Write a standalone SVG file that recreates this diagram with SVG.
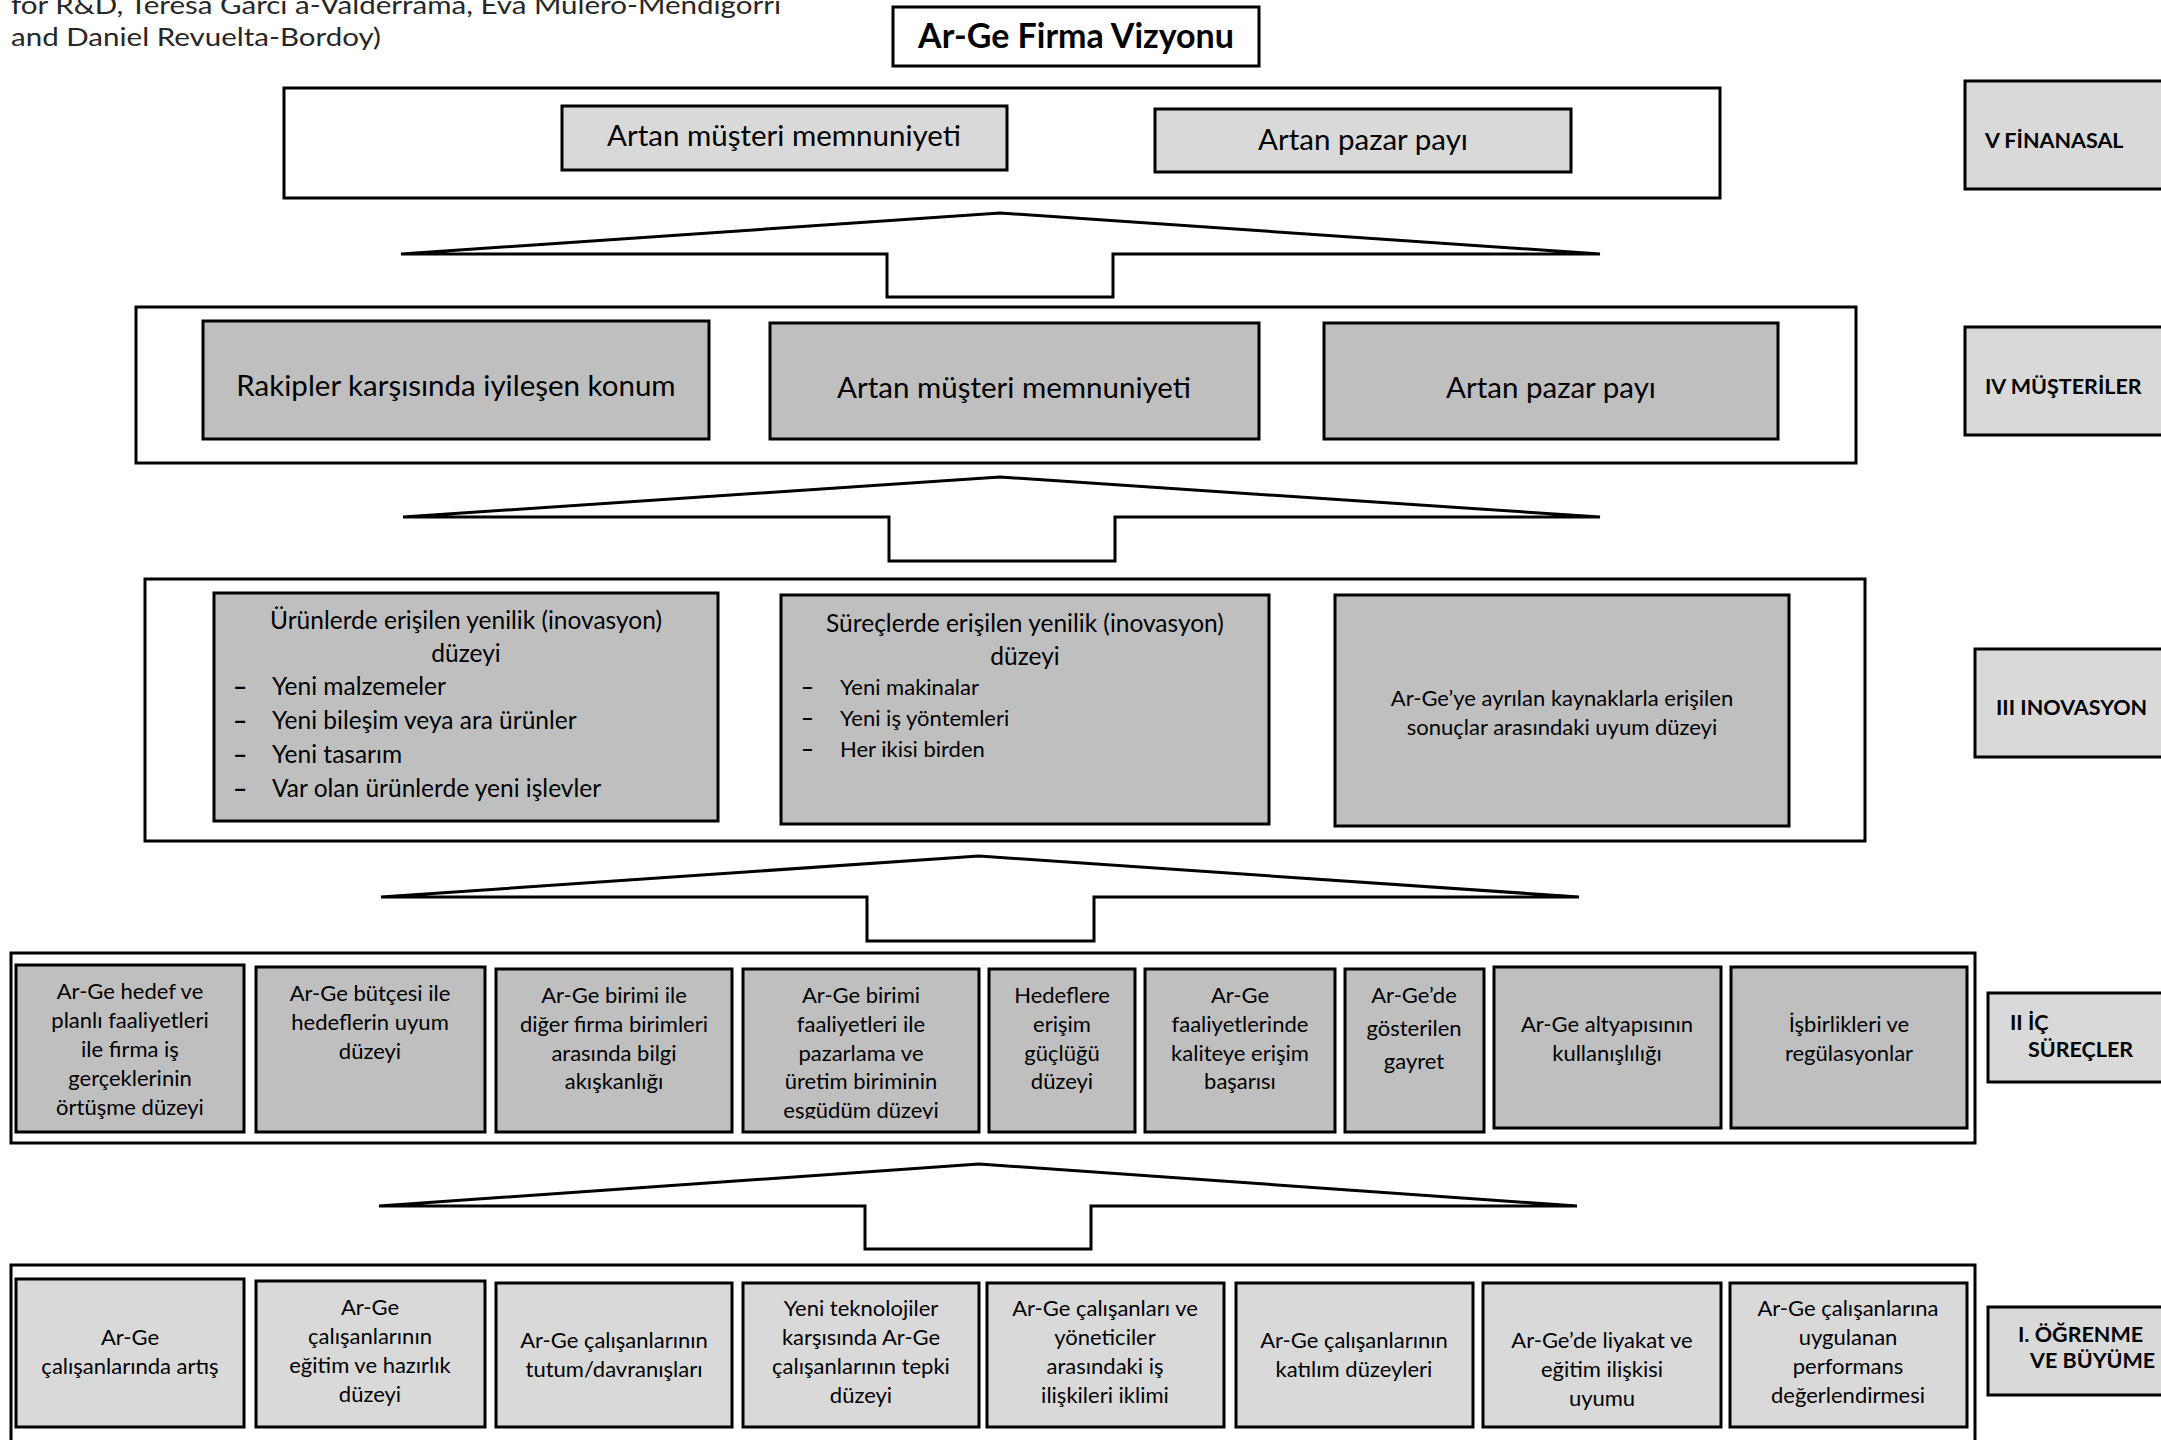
<svg xmlns="http://www.w3.org/2000/svg" width="2161" height="1440" viewBox="0 0 2161 1440">
  <defs>
    <style>
      .ctr{fill:#fff;stroke:#000;stroke-width:3}
      .dk{fill:#bfbfbf;stroke:#000;stroke-width:3}
      .lt{fill:#d9d9d9;stroke:#000;stroke-width:3}
      .arrow{fill:#fff;stroke:#000;stroke-width:3;stroke-linejoin:miter}
      text{font-family:Lato,"Liberation Sans",sans-serif;fill:#000}
      .c{text-anchor:middle}
      .big{font-size:29.5px}
      .mid{font-size:24.5px}
      .sm{font-size:22px}
      .dash{font-weight:bold}
      .lbl{font-size:21.5px;font-weight:bold}
      .ttl{font-size:34px;font-weight:bold}
      .cite{font-size:25px;fill:#262626}
    </style>
    <clipPath id="clipII4"><rect x="743" y="969" width="236" height="150"/></clipPath>
  </defs>
  <rect width="2161" height="1440" fill="#fff"/>

  <!-- source note, top left -->
  <g id="citation">
    <text class="cite" x="11" y="14" textLength="770" lengthAdjust="spacingAndGlyphs">for R&amp;D, Teresa Garcí a-Valderrama, Eva Mulero-Mendigorri</text>
    <text class="cite" x="11" y="46" textLength="370" lengthAdjust="spacingAndGlyphs">and Daniel Revuelta-Bordoy)</text>
  </g>

  <!-- title -->
  <g id="title">
    <rect class="ctr" x="893" y="7" width="366" height="59"/>
    <text class="ttl c" x="1076" y="48">Ar-Ge Firma Vizyonu</text>
  </g>

  <!-- upward block arrows between the levels -->
  <g id="connectors">
    <polygon class="arrow" points="1000,213 1600,254 1113,254 1113,297 887,297 887,254 401,254"/>
    <polygon class="arrow" points="1000,477 1600,517 1115,517 1115,561 889,561 889,517 403,517"/>
    <polygon class="arrow" points="979,856 1579,897 1094,897 1094,941 867,941 867,897 381,897"/>
    <polygon class="arrow" points="979,1164 1577,1206 1091,1206 1091,1249 865,1249 865,1206 379,1206"/>
  </g>

  <!-- V: financial -->
  <g id="level-v">
    <rect class="ctr" x="284" y="88" width="1436" height="110"/>
    <g id="v-1">
      <rect class="lt" x="562" y="106" width="445" height="64"/>
      <text class="big c" x="784" y="146">Artan müşteri memnuniyeti</text>
    </g>
    <g id="v-2">
      <rect class="lt" x="1155" y="109" width="416" height="63"/>
      <text class="big c" x="1363" y="150">Artan pazar payı</text>
    </g>
  </g>

  <!-- IV: customers -->
  <g id="level-iv">
    <rect class="ctr" x="136" y="307" width="1720" height="156"/>
    <g id="iv-1">
      <rect class="dk" x="203" y="321" width="506" height="118"/>
      <text class="big c" x="456" y="396">Rakipler karşısında iyileşen konum</text>
    </g>
    <g id="iv-2">
      <rect class="dk" x="770" y="323" width="489" height="116"/>
      <text class="big c" x="1014" y="398">Artan müşteri memnuniyeti</text>
    </g>
    <g id="iv-3">
      <rect class="dk" x="1324" y="323" width="454" height="116"/>
      <text class="big c" x="1551" y="398">Artan pazar payı</text>
    </g>
  </g>

  <!-- III: innovation -->
  <g id="level-iii">
    <rect class="ctr" x="145" y="579" width="1720" height="262"/>
    <g id="iii-1">
      <rect class="dk" x="214" y="593" width="504" height="228"/>
      <text class="mid c" x="466" y="629">Ürünlerde erişilen yenilik (inovasyon)</text>
      <text class="mid c" x="466" y="662">düzeyi</text>
      <text class="mid dash" x="233" y="695">–</text><text class="mid" x="272" y="695">Yeni malzemeler</text>
      <text class="mid dash" x="233" y="729">–</text><text class="mid" x="272" y="729">Yeni bileşim veya ara ürünler</text>
      <text class="mid dash" x="233" y="763">–</text><text class="mid" x="272" y="763">Yeni tasarım</text>
      <text class="mid dash" x="233" y="797">–</text><text class="mid" x="272" y="797">Var olan ürünlerde yeni işlevler</text>
    </g>
    <g id="iii-2">
      <rect class="dk" x="781" y="595" width="488" height="229"/>
      <text class="mid c" x="1025" y="632">Süreçlerde erişilen yenilik (inovasyon)</text>
      <text class="mid c" x="1025" y="665">düzeyi</text>
      <text class="sm dash" x="801" y="695">–</text><text class="sm" x="840" y="695">Yeni makinalar</text>
      <text class="sm dash" x="801" y="726">–</text><text class="sm" x="840" y="726">Yeni iş yöntemleri</text>
      <text class="sm dash" x="801" y="757">–</text><text class="sm" x="840" y="757">Her ikisi birden</text>
    </g>
    <g id="iii-3">
      <rect class="dk" x="1335" y="595" width="454" height="231"/>
      <text class="sm c" x="1562" y="706">Ar-Ge’ye ayrılan kaynaklarla erişilen</text>
      <text class="sm c" x="1562" y="735">sonuçlar arasındaki uyum düzeyi</text>
    </g>
  </g>

  <!-- II: internal processes -->
  <g id="level-ii">
    <rect class="ctr" x="11" y="953" width="1964" height="190"/>
    <g id="ii-1">
      <rect class="dk" x="16" y="965" width="228" height="167"/>
      <text class="sm c" x="130" y="999">Ar-Ge hedef ve</text>
      <text class="sm c" x="130" y="1028">planlı faaliyetleri</text>
      <text class="sm c" x="130" y="1057">ile firma iş</text>
      <text class="sm c" x="130" y="1086">gerçeklerinin</text>
      <text class="sm c" x="130" y="1115">örtüşme düzeyi</text>
    </g>
    <g id="ii-2">
      <rect class="dk" x="256" y="967" width="229" height="165"/>
      <text class="sm c" x="370" y="1001">Ar-Ge bütçesi ile</text>
      <text class="sm c" x="370" y="1030">hedeflerin uyum</text>
      <text class="sm c" x="370" y="1059">düzeyi</text>
    </g>
    <g id="ii-3">
      <rect class="dk" x="496" y="969" width="236" height="163"/>
      <text class="sm c" x="614" y="1003">Ar-Ge birimi ile</text>
      <text class="sm c" x="614" y="1032">diğer firma birimleri</text>
      <text class="sm c" x="614" y="1061">arasında bilgi</text>
      <text class="sm c" x="614" y="1089">akışkanlığı</text>
    </g>
    <g id="ii-4">
      <rect class="dk" x="743" y="969" width="236" height="163"/>
      <g clip-path="url(#clipII4)">
        <text class="sm c" x="861" y="1003">Ar-Ge birimi</text>
        <text class="sm c" x="861" y="1032">faaliyetleri ile</text>
        <text class="sm c" x="861" y="1061">pazarlama ve</text>
        <text class="sm c" x="861" y="1089">üretim biriminin</text>
        <text class="sm c" x="861" y="1118">eşgüdüm düzeyi</text>
      </g>
    </g>
    <g id="ii-5">
      <rect class="dk" x="989" y="969" width="146" height="163"/>
      <text class="sm c" x="1062" y="1003">Hedeflere</text>
      <text class="sm c" x="1062" y="1032">erişim</text>
      <text class="sm c" x="1062" y="1061">güçlüğü</text>
      <text class="sm c" x="1062" y="1089">düzeyi</text>
    </g>
    <g id="ii-6">
      <rect class="dk" x="1145" y="969" width="190" height="163"/>
      <text class="sm c" x="1240" y="1003">Ar-Ge</text>
      <text class="sm c" x="1240" y="1032">faaliyetlerinde</text>
      <text class="sm c" x="1240" y="1061">kaliteye erişim</text>
      <text class="sm c" x="1240" y="1089">başarısı</text>
    </g>
    <g id="ii-7">
      <rect class="dk" x="1345" y="969" width="139" height="163"/>
      <text class="sm c" x="1414" y="1003">Ar-Ge’de</text>
      <text class="sm c" x="1414" y="1036">gösterilen</text>
      <text class="sm c" x="1414" y="1069">gayret</text>
    </g>
    <g id="ii-8">
      <rect class="dk" x="1494" y="967" width="227" height="161"/>
      <text class="sm c" x="1607" y="1032">Ar-Ge altyapısının</text>
      <text class="sm c" x="1607" y="1061">kullanışlılığı</text>
    </g>
    <g id="ii-9">
      <rect class="dk" x="1731" y="967" width="236" height="161"/>
      <text class="sm c" x="1849" y="1032">İşbirlikleri ve</text>
      <text class="sm c" x="1849" y="1061">regülasyonlar</text>
    </g>
  </g>

  <!-- I: learning and growth -->
  <g id="level-i">
    <rect class="ctr" x="11" y="1265" width="1964" height="200"/>
    <g id="i-1">
      <rect class="lt" x="16" y="1279" width="228" height="148"/>
      <text class="sm c" x="130" y="1345">Ar-Ge</text>
      <text class="sm c" x="130" y="1374">çalışanlarında artış</text>
    </g>
    <g id="i-2">
      <rect class="lt" x="256" y="1281" width="229" height="146"/>
      <text class="sm c" x="370" y="1315">Ar-Ge</text>
      <text class="sm c" x="370" y="1344">çalışanlarının</text>
      <text class="sm c" x="370" y="1373">eğitim ve hazırlık</text>
      <text class="sm c" x="370" y="1402">düzeyi</text>
    </g>
    <g id="i-3">
      <rect class="lt" x="496" y="1283" width="236" height="144"/>
      <text class="sm c" x="614" y="1348">Ar-Ge çalışanlarının</text>
      <text class="sm c" x="614" y="1377">tutum/davranışları</text>
    </g>
    <g id="i-4">
      <rect class="lt" x="743" y="1283" width="236" height="144"/>
      <text class="sm c" x="861" y="1316">Yeni teknolojiler</text>
      <text class="sm c" x="861" y="1345">karşısında Ar-Ge</text>
      <text class="sm c" x="861" y="1374">çalışanlarının tepki</text>
      <text class="sm c" x="861" y="1403">düzeyi</text>
    </g>
    <g id="i-5">
      <rect class="lt" x="987" y="1283" width="237" height="144"/>
      <text class="sm c" x="1105" y="1316">Ar-Ge çalışanları ve</text>
      <text class="sm c" x="1105" y="1345">yöneticiler</text>
      <text class="sm c" x="1105" y="1374">arasındaki iş</text>
      <text class="sm c" x="1105" y="1403">ilişkileri iklimi</text>
    </g>
    <g id="i-6">
      <rect class="lt" x="1236" y="1283" width="237" height="144"/>
      <text class="sm c" x="1354" y="1348">Ar-Ge çalışanlarının</text>
      <text class="sm c" x="1354" y="1377">katılım düzeyleri</text>
    </g>
    <g id="i-7">
      <rect class="lt" x="1483" y="1283" width="238" height="144"/>
      <text class="sm c" x="1602" y="1348">Ar-Ge’de liyakat ve</text>
      <text class="sm c" x="1602" y="1377">eğitim ilişkisi</text>
      <text class="sm c" x="1602" y="1406">uyumu</text>
    </g>
    <g id="i-8">
      <rect class="lt" x="1730" y="1283" width="237" height="144"/>
      <text class="sm c" x="1848" y="1316">Ar-Ge çalışanlarına</text>
      <text class="sm c" x="1848" y="1345">uygulanan</text>
      <text class="sm c" x="1848" y="1374">performans</text>
      <text class="sm c" x="1848" y="1403">değerlendirmesi</text>
    </g>
  </g>

  <!-- perspective labels on the right -->
  <g id="label-v">
    <rect class="lt" x="1965" y="81" width="210" height="108"/>
    <text class="lbl" x="1985" y="148">V FİNANASAL</text>
  </g>
  <g id="label-iv">
    <rect class="lt" x="1965" y="327" width="210" height="108"/>
    <text class="lbl" x="1985" y="394">IV MÜŞTERİLER</text>
  </g>
  <g id="label-iii">
    <rect class="lt" x="1975" y="649" width="200" height="108"/>
    <text class="lbl" x="1996" y="715">III INOVASYON</text>
  </g>
  <g id="label-ii">
    <rect class="lt" x="1988" y="993" width="187" height="89"/>
    <text class="lbl" x="2010" y="1030">II İÇ</text>
    <text class="lbl" x="2028" y="1057">SÜREÇLER</text>
  </g>
  <g id="label-i">
    <rect class="lt" x="1988" y="1307" width="187" height="88"/>
    <text class="lbl" x="2018" y="1342">I. ÖĞRENME</text>
    <text class="lbl" x="2030" y="1368">VE BÜYÜME</text>
  </g>
</svg>
